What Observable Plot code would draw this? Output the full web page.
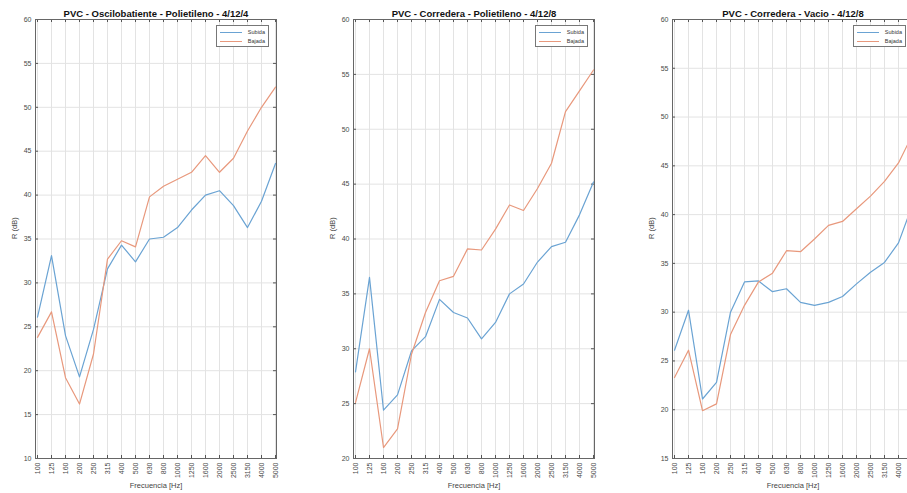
<!DOCTYPE html>
<html>
<head>
<meta charset="utf-8">
<script src="https://cdn.jsdelivr.net/npm/d3@7"></script>
<script src="https://cdn.jsdelivr.net/npm/@observablehq/plot@0.6"></script>
<style>
  html, body { margin: 0; padding: 0; background: #fff; }
  #root { position: relative; width: 907px; height: 493px; overflow: hidden; background: #fff; }
  .pnl { position: absolute; top: 0; width: 300px; height: 493px; }
  .pnl svg { max-width: none !important; width: 300px; height: 493px; }
  .lg { position: absolute; top: 25px; width: 53px; height: 22px; border: 1px solid #777; background: #fff;
        font-family: "Liberation Sans", Arial, sans-serif; font-size: 5.5px; color: #333; box-sizing: border-box; }
  .lg .row { position: absolute; left: 3px; right: 3px; height: 8px; }
  .lg .sw { position: absolute; left: 0; top: 4px; width: 22px; height: 0; border-top: 1px solid; }
  .lg .tx { position: absolute; right: 0; top: 0; line-height: 8px; }
</style>
</head>
<body>
<div id="root"></div>
<script>
const freqs = ["100","125","160","200","250","315","400","500","630","800","1000","1250","1600","2000","2500","3150","4000","5000"];
// the third panel is cropped at the right edge of the picture: its last label is not shown
const visibleTickLabels = [freqs, freqs, freqs.slice(0, -1)];
const seriesNames = ["Subida", "Bajada"];
const titles = ["PVC - Oscilobatiente - Polietileno - 4/12/4", "PVC - Corredera - Polietileno - 4/12/8", "PVC - Corredera - Vacio - 4/12/8"];
const yDomains = [[10, 60], [20, 60], [15, 60]];

const p1Subida = [26.1, 33.1, 24.0, 19.3, 24.7, 31.6, 34.3, 32.4, 35.0, 35.2, 36.3, 38.3, 40.0, 40.5, 38.8, 36.3, 39.3, 43.6];
const p1Bajada = [23.8, 26.7, 19.2, 16.2, 21.9, 32.7, 34.8, 34.1, 39.8, 41.0, 41.8, 42.6, 44.5, 42.6, 44.2, 47.3, 50.0, 52.3];
const p2Subida = [27.9, 36.5, 24.4, 25.8, 29.8, 31.1, 34.5, 33.3, 32.8, 30.9, 32.4, 35.0, 35.9, 37.9, 39.3, 39.7, 42.2, 45.2];
const p2Bajada = [25.1, 30.0, 21.0, 22.7, 29.5, 33.3, 36.2, 36.6, 39.1, 39.0, 40.9, 43.1, 42.6, 44.6, 46.9, 51.6, 53.5, 55.4];
const p3Subida = [26.1, 30.2, 21.1, 22.8, 30.0, 33.1, 33.2, 32.1, 32.4, 31.0, 30.7, 31.0, 31.6, 32.9, 34.1, 35.1, 37.1, 41.0];
const p3Bajada = [23.3, 26.1, 19.9, 20.6, 27.7, 30.7, 33.1, 34.0, 36.3, 36.2, 37.5, 38.9, 39.3, 40.6, 41.9, 43.4, 45.3, 48.2];

const colors = ["#6aa3d3", "#e8987c"];
const FONT = "'Liberation Sans', Arial, sans-serif";
const W = 300, H = 493, ML = 35, MR = 24, MT = 19, MB = 35;
const PH = H - MT - MB, PW = W - ML - MR;

function panel(title, domain, subida, bajada, labelTicks) {
  const rows = freqs.flatMap((f, i) => [
    {f, v: subida[i], s: seriesNames[0]},
    {f, v: bajada[i], s: seriesNames[1]}
  ]);
  const yTicks = d3.range(domain[0], domain[1] + 0.01, 5);
  return Plot.plot({
    width: W, height: H,
    marginLeft: ML, marginRight: MR, marginTop: MT, marginBottom: MB,
    style: {fontFamily: FONT, background: "transparent", overflow: "visible", maxWidth: "none"},
    x: {type: "point", domain: freqs, padding: 0},
    y: {domain},
    color: {domain: seriesNames, range: colors},
    marks: [
      Plot.gridX(freqs, {stroke: "#e3e3e3", strokeOpacity: 1}),
      Plot.gridY(yTicks, {stroke: "#e3e3e3", strokeOpacity: 1}),
      Plot.axisX(labelTicks, {tickRotate: -90, tickSize: 0, tickPadding: 4, fontSize: 7, fill: "#4a4a4a", label: null}),
      Plot.axisY({ticks: yTicks, tickSize: 0, tickPadding: 4, fontSize: 7, fill: "#4a4a4a", label: null}),
      Plot.ruleX(freqs, {x: d => d, insetTop: PH - 3, stroke: "#555"}),
      Plot.ruleX(freqs, {x: d => d, insetBottom: PH - 3, stroke: "#555"}),
      Plot.ruleY(yTicks, {y: d => d, insetRight: PW - 3, stroke: "#555"}),
      Plot.ruleY(yTicks, {y: d => d, insetLeft: PW - 3, stroke: "#555"}),
      Plot.lineY(rows, {x: "f", y: "v", stroke: "s", strokeWidth: 1.2}),
      Plot.frame({stroke: "#666"}),
      Plot.text([title], {text: d => d, frameAnchor: "top", dy: -9, fontWeight: "bold", fontSize: 9.5, fill: "#111"}),
      Plot.text(["Frecuencia [Hz]"], {text: d => d, frameAnchor: "bottom", dy: 29, fontSize: 7.5, fill: "#444"}),
      Plot.text(["R (dB)"], {text: d => d, frameAnchor: "left", dx: -21, rotate: -90, fontSize: 7.5, fill: "#444"})
    ]
  });
}

function legend(left) {
  const lg = document.createElement("div");
  lg.className = "lg";
  lg.style.left = left + "px";
  seriesNames.forEach((name, i) => {
    const row = document.createElement("div");
    row.className = "row";
    row.style.top = (2 + i * 9) + "px";
    const sw = document.createElement("div");
    sw.className = "sw";
    sw.style.borderTopColor = colors[i];
    const tx = document.createElement("div");
    tx.className = "tx";
    tx.textContent = name;
    row.appendChild(sw); row.appendChild(tx);
    lg.appendChild(row);
  });
  return lg;
}

const root = document.getElementById("root");
const data = [[p1Subida, p1Bajada], [p2Subida, p2Bajada], [p3Subida, p3Bajada]];
const lefts = [0, 318.3, 637.3];
const legendLefts = [216, 535, 853];
data.forEach(([s, b], i) => {
  const el = panel(titles[i], yDomains[i], s, b, visibleTickLabels[i]);
  const wrap = document.createElement("div");
  wrap.className = "pnl";
  wrap.style.left = lefts[i] + "px";
  wrap.appendChild(el);
  root.appendChild(wrap);
  root.appendChild(legend(legendLefts[i]));
});
</script>
</body>
</html>
